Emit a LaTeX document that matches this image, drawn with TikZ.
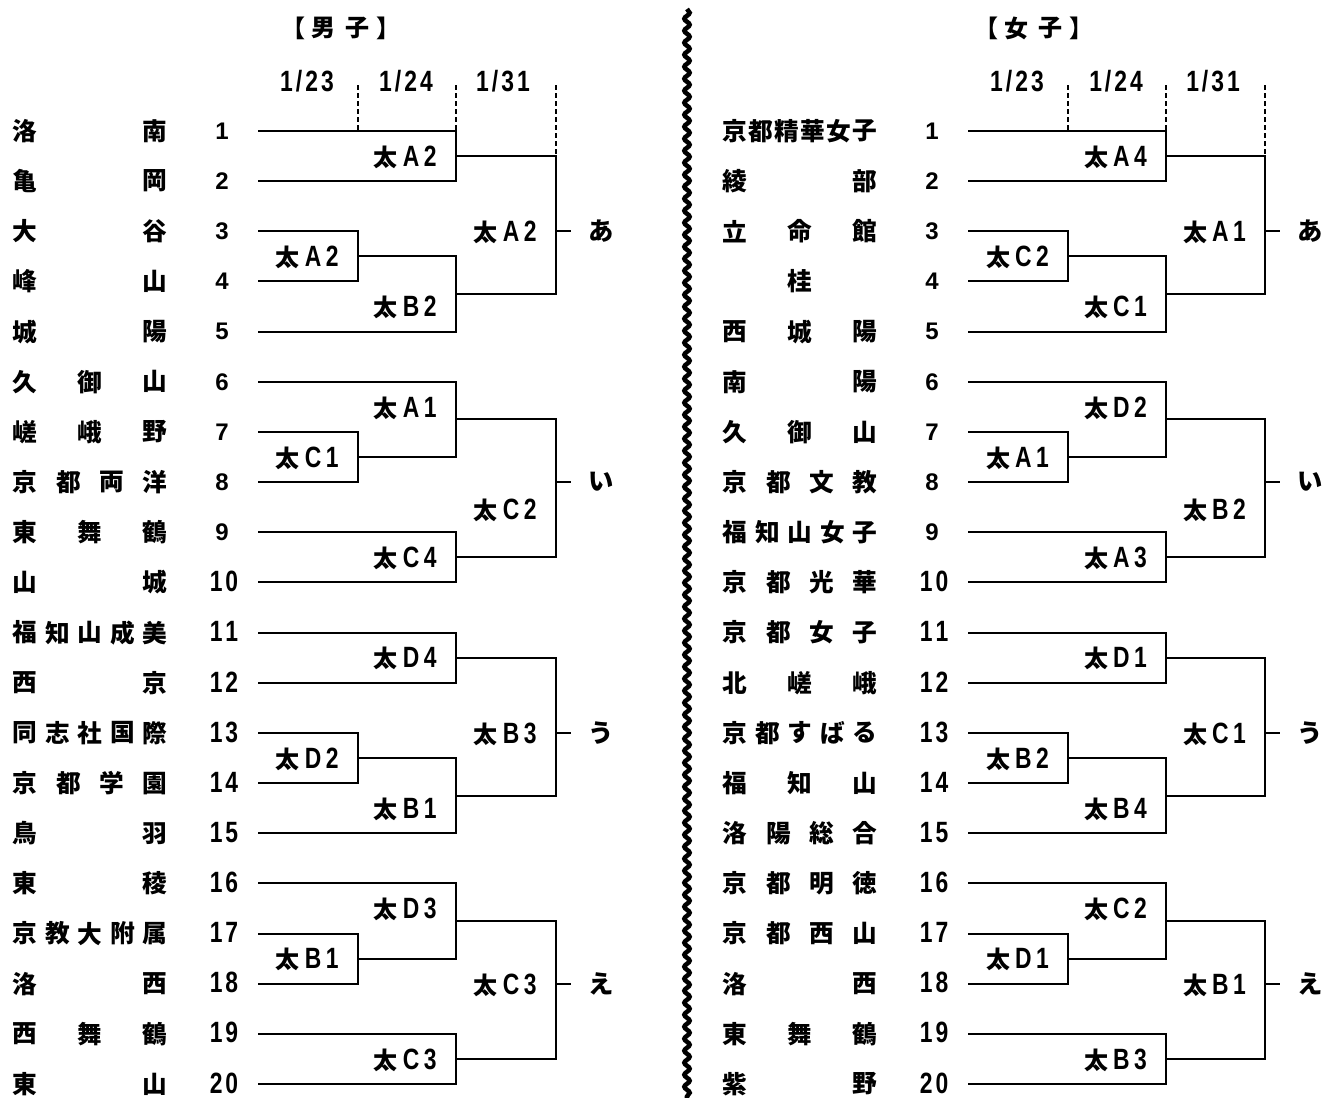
\documentclass[tikz,border=0pt]{standalone}
\usepackage{fontspec}
\usetikzlibrary{calc,decorations.pathmorphing}
\newfontfamily\jp{Noto Sans CJK JP}
\newfontfamily\arl{Liberation Sans}
\newfontfamily\cnd{Liberation Sans}[FakeStretch=0.78]
\newdimen\px \px=0.75pt
\newcommand\gp{\hspace{3\px}}
\newcommand\cndfont{\cnd\bfseries\fontsize{22}{22}\selectfont}
\newcommand\lab[2]{{\jp\bfseries\fontsize{18}{18}\selectfont 太}\hspace{5\px}{\cndfont #1\hspace{4.5\px}#2}}
\newcommand\dte[4]{{\cndfont #1\gp#2\gp#3\gp#4}}
\def\offm{0}
\def\offw{710}
\tikzset{
  br/.style={line width=1.5pt},
  dsh/.style={line width=1.2pt, dash pattern=on 3.5pt off 2.5pt},
  nm/.style={inner sep=0pt, font=\jp\bfseries\fontsize{18.5}{18.5}\selectfont},
  numa/.style={inner sep=0pt, font=\arl\bfseries\fontsize{18}{18}\selectfont},
  numb/.style={inner sep=0pt, font=\cndfont},
  dt/.style={inner sep=0pt},
  lb/.style={inner sep=0pt, anchor=east},
  hd/.style={inner sep=0pt, font=\jp\bfseries\fontsize{18}{18}\selectfont},
  rs/.style={inner xsep=17\px, inner ysep=0pt, font=\jp\bfseries\fontsize{19}{19}\selectfont},
  wv/.style={line width=3.4pt, decorate, decoration={snake, amplitude=2pt, segment length=9pt}}
}
\newcommand\team[4]{% side, row, count, chars
  \ifnum#3=1
    \node[nm] (#1name#2) at ({\csname off#1\endcsname+90}, {131+(#2-1)*50.16}) {#4};
  \else
    \foreach \ch [count=\k] in {#4} {
      \node[nm] (#1name#2x\k) at ({\csname off#1\endcsname+25+(\k-1)*130/(#3-1)}, {131+(#2-1)*50.16}) {\ch};
    }
  \fi}
% type A block: (r0,r0+1) ; ((r0+2,r0+3),r0+4)
\newcommand\blockA[8]{%
  \pgfmathtruncatemacro\rA{#2}%
  \pgfmathtruncatemacro\rB{#2+1}%
  \pgfmathtruncatemacro\rC{#2+2}%
  \pgfmathtruncatemacro\rD{#2+3}%
  \pgfmathtruncatemacro\rE{#2+4}%
  \draw[br] (#1t\rA) -| (#1c2 |- #1t\rB) -- (#1t\rB);
  \draw[br] (#1t\rC) -| (#1c1 |- #1t\rD) -- (#1t\rD);
  \coordinate (#1p\rA) at ($(#1c1 |- #1t\rC)!.5!(#1c1 |- #1t\rD)$);
  \draw[br] (#1p\rA) -| (#1c2 |- #1t\rE) -- (#1t\rE);
  \coordinate (#1q\rA) at ($(#1c2 |- #1t\rA)!.5!(#1c2 |- #1t\rB)$);
  \coordinate (#1s\rA) at ($(#1c2 |- #1p\rA)!.5!(#1c2 |- #1t\rE)$);
  \draw[br] (#1q\rA) -| (#1c3 |- #1s\rA) -- (#1s\rA);
  \node[lb] (#1La\rA) at ($(#1q\rA)+(-19,1)$) {\lab #3};
  \node[lb] (#1Lb\rA) at ($(#1p\rA)+(-19,1)$) {\lab #4};
  \node[lb] (#1Lc\rA) at ($(#1c2 |- #1t\rD)!.5!(#1c2 |- #1t\rE)+(-19,1)$) {\lab #5};
  \coordinate (#1y\rA) at (0,#7);
  \node[lb] (#1Ld\rA) at ($(#1c3 |- #1y\rA)+(-19,1)$) {\lab #6};
  \node[rs] (#1R\rA) at ($(#1c3 |- #1t\rC)+(45,0)$) {#8};
  \draw[br] (#1c3 |- #1t\rC) -- (#1R\rA.west);
}
% type B block: (r0,(r0+1,r0+2)) ; (r0+3,r0+4)
\newcommand\blockB[8]{%
  \pgfmathtruncatemacro\rA{#2}%
  \pgfmathtruncatemacro\rB{#2+1}%
  \pgfmathtruncatemacro\rC{#2+2}%
  \pgfmathtruncatemacro\rD{#2+3}%
  \pgfmathtruncatemacro\rE{#2+4}%
  \draw[br] (#1t\rB) -| (#1c1 |- #1t\rC) -- (#1t\rC);
  \coordinate (#1p\rA) at ($(#1c1 |- #1t\rB)!.5!(#1c1 |- #1t\rC)$);
  \draw[br] (#1t\rA) -| (#1c2 |- #1p\rA) -- (#1p\rA);
  \draw[br] (#1t\rD) -| (#1c2 |- #1t\rE) -- (#1t\rE);
  \coordinate (#1q\rA) at ($(#1c2 |- #1t\rA)!.5!(#1c2 |- #1p\rA)$);
  \coordinate (#1s\rA) at ($(#1c2 |- #1t\rD)!.5!(#1c2 |- #1t\rE)$);
  \draw[br] (#1q\rA) -| (#1c3 |- #1s\rA) -- (#1s\rA);
  \node[lb] (#1La\rA) at ($(#1c2 |- #1t\rA)!.5!(#1c2 |- #1t\rB)+(-19,1)$) {\lab #3};
  \node[lb] (#1Lb\rA) at ($(#1p\rA)+(-19,1)$) {\lab #4};
  \node[lb] (#1Lc\rA) at ($(#1s\rA)+(-19,1)$) {\lab #5};
  \coordinate (#1y\rA) at (0,#7);
  \node[lb] (#1Ld\rA) at ($(#1c3 |- #1y\rA)+(-19,1)$) {\lab #6};
  \node[rs] (#1R\rA) at ($(#1c3 |- #1t\rC)+(45,0)$) {#8};
  \draw[br] (#1c3 |- #1t\rC) -- (#1R\rA.west);
}
\begin{document}
\begin{tikzpicture}[x=0.75pt,y=-0.75pt]
\useasboundingbox (0,0) rectangle (1327,1097);
% columns
\coordinate (mc1) at (358,85);
\coordinate (mc2) at (456,85);
\coordinate (mc3) at (556,85);
\coordinate (wc1) at (1068,85);
\coordinate (wc2) at (1166,85);
\coordinate (wc3) at (1265,85);
\foreach \i in {1,...,20} {
  \coordinate (mt\i) at (258,{131+(\i-1)*50.16});
  \coordinate (wt\i) at (968,{131+(\i-1)*50.16});
  \ifnum\i<10
    \node[numa] (mn\i) at (222,{131+(\i-1)*50.16}) {\i};
    \node[numa] (wn\i) at (932,{131+(\i-1)*50.16}) {\i};
  \else
    \node[numb] (mn\i) at (224,{130+(\i-1)*50.16}) {\pgfmathparse{int(\i/10)}\pgfmathresult\gp\pgfmathparse{int(mod(\i,10))}\pgfmathresult};
    \node[numb] (wn\i) at (934,{130+(\i-1)*50.16}) {\pgfmathparse{int(\i/10)}\pgfmathresult\gp\pgfmathparse{int(mod(\i,10))}\pgfmathresult};
  \fi
}
% headings
\node[hd] (mh1) at (293,28) {【};
\node[hd] (mh2) at (323,28) {男};
\node[hd] (mh3) at (357,28) {子};
\node[hd] (mh4) at (388,28) {】};
\node[hd] (wh1) at (986,28) {【};
\node[hd] (wh2) at (1016,28) {女};
\node[hd] (wh3) at (1050,28) {子};
\node[hd] (wh4) at (1081,28) {】};
% dates
\node[dt] (md1) at (307,81) {\dte 1/23};
\node[dt] (md2) at (406,81) {\dte 1/24};
\node[dt] (md3) at (503,81) {\dte 1/31};
\node[dt] (wd1) at (1017,81) {\dte 1/23};
\node[dt] (wd2) at (1116,81) {\dte 1/24};
\node[dt] (wd3) at (1213,81) {\dte 1/31};
% wavy divider
\coordinate (wvtop) at (687,9);
\coordinate (wvbot) at (687,1102);
\draw[wv] (wvtop) -- (wvbot);
% teams men
\team{m}{1}{2}{洛,南}
\team{m}{2}{2}{亀,岡}
\team{m}{3}{2}{大,谷}
\team{m}{4}{2}{峰,山}
\team{m}{5}{2}{城,陽}
\team{m}{6}{3}{久,御,山}
\team{m}{7}{3}{嵯,峨,野}
\team{m}{8}{4}{京,都,両,洋}
\team{m}{9}{3}{東,舞,鶴}
\team{m}{10}{2}{山,城}
\team{m}{11}{5}{福,知,山,成,美}
\team{m}{12}{2}{西,京}
\team{m}{13}{5}{同,志,社,国,際}
\team{m}{14}{4}{京,都,学,園}
\team{m}{15}{2}{鳥,羽}
\team{m}{16}{2}{東,稜}
\team{m}{17}{5}{京,教,大,附,属}
\team{m}{18}{2}{洛,西}
\team{m}{19}{3}{西,舞,鶴}
\team{m}{20}{2}{東,山}
% teams women
\team{w}{1}{6}{京,都,精,華,女,子}
\team{w}{2}{2}{綾,部}
\team{w}{3}{3}{立,命,館}
\team{w}{4}{1}{桂}
\team{w}{5}{3}{西,城,陽}
\team{w}{6}{2}{南,陽}
\team{w}{7}{3}{久,御,山}
\team{w}{8}{4}{京,都,文,教}
\team{w}{9}{5}{福,知,山,女,子}
\team{w}{10}{4}{京,都,光,華}
\team{w}{11}{4}{京,都,女,子}
\team{w}{12}{3}{北,嵯,峨}
\team{w}{13}{5}{京,都,す,ば,る}
\team{w}{14}{3}{福,知,山}
\team{w}{15}{4}{洛,陽,総,合}
\team{w}{16}{4}{京,都,明,徳}
\team{w}{17}{4}{京,都,西,山}
\team{w}{18}{2}{洛,西}
\team{w}{19}{3}{東,舞,鶴}
\team{w}{20}{2}{紫,野}
% brackets men
\blockA{m}{1}{A2}{A2}{B2}{A2}{231}{あ}
\blockB{m}{6}{A1}{C1}{C4}{C2}{509}{い}
\blockA{m}{11}{D4}{D2}{B1}{B3}{733}{う}
\blockB{m}{16}{D3}{B1}{C3}{C3}{984}{え}
% brackets women
\blockA{w}{1}{A4}{C2}{C1}{A1}{231}{あ}
\blockB{w}{6}{D2}{A1}{A3}{B2}{509}{い}
\blockA{w}{11}{D1}{B2}{B4}{C1}{733}{う}
\blockB{w}{16}{C2}{D1}{B3}{B1}{984}{え}
% dashed date separators
\draw[dsh] (mc1) -- (mc1 |- mt1);
\draw[dsh] (mc2) -- (mc2 |- mt1);
\draw[dsh] (mc3) -- (mc3 |- mq1);
\draw[dsh] (wc1) -- (wc1 |- wt1);
\draw[dsh] (wc2) -- (wc2 |- wt1);
\draw[dsh] (wc3) -- (wc3 |- wq1);
\end{tikzpicture}
\end{document}
